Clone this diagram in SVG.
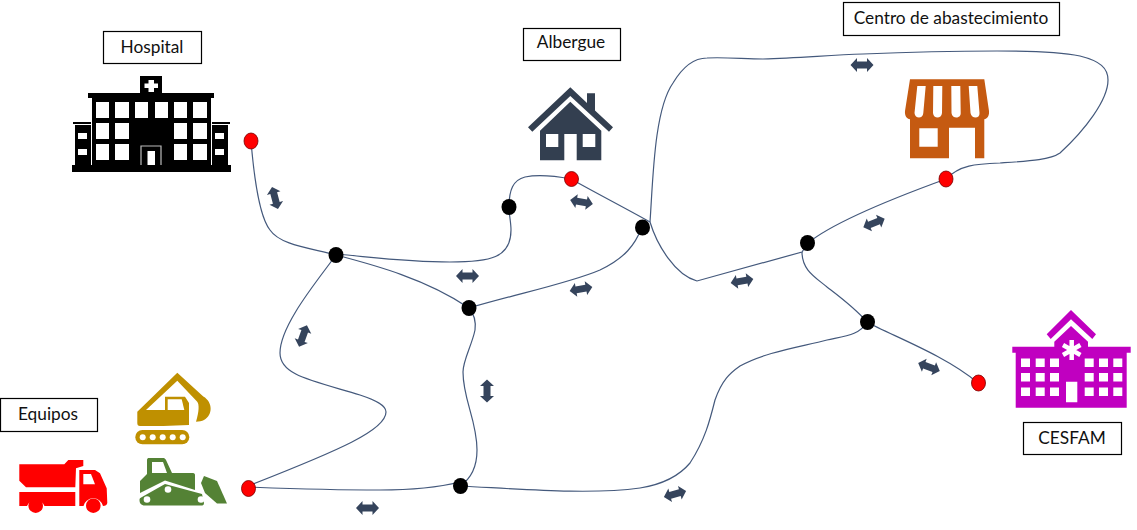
<svg xmlns="http://www.w3.org/2000/svg" xmlns:xlink="http://www.w3.org/1999/xlink" width="1137" height="530" viewBox="0 0 1137 530">
<style>
.lbl{fill:#fff;stroke:#000;stroke-width:1.2}
.txt{font-family:Lato,"Liberation Sans",sans-serif;font-size:17.300px;fill:#111;text-anchor:middle}
.c{fill:none;stroke:#44597c;stroke-width:1.200}
.blk{fill:#000}
.red{fill:#f00;stroke:#700;stroke-width:.8}
.arw{fill:#35445c}
.w{fill:#fff}
</style>
<defs>
<path id="da" d="M-11.500 0L-5 -7V-3.500H5V-7L11.500 0L5 7V3.500H-5V7Z"/>
</defs>
<rect width="1137" height="530" fill="#fff"/>
<g id="connectors">
<path class="c" d="M251 141C253 165 258 215 270 230C280 245 310 248 336 255"/>
<path class="c" d="M336 254C380 258 410 262 450 262C490 262 511 258 511 230C511 222 509 215 509 207"/>
<path class="c" d="M509 207C509 190 513 180 525 177C540 174 555 176 571 179"/>
<path class="c" d="M571 179C596 193 625 208 650 222"/>
<path class="c" d="M650 222C653 180 654 110 673 83C682 68 693 58 707 58C725 57 745 59 763 59C800 58 830 55 863 54C910 52 960 51 997 51C1030 51 1060 52 1080 56C1100 61 1108 68 1108 80C1108 100 1085 130 1060 153C1050 160 1030 161 1000 163C975 164 960 165 946 179"/>
<path class="c" d="M469 308C520 293 570 283 600 270C625 258 635 245 642 227"/>
<path class="c" d="M336 255C370 264 425 278 469 308"/>
<path class="c" d="M469 308C475 315 476 322 475 330C472 345 463 360 463 372C463 400 477 420 477 450C477 465 472 478 460 486"/>
<path class="c" d="M336 255C318 280 280 325 280 353C280 375 310 380 360 395C375 400 386 405 386 412C386 430 340 450 248 486"/>
<path class="c" d="M248 487C300 489 350 490 380 490C410 490 440 487 460 482"/>
<path class="c" d="M460 486C520 489 590 495 640 488C665 484 680 475 690 463C705 440 710 420 715 400C722 380 730 373 740 366C765 352 800 347 827 340C845 336 860 335 867 322"/>
<path class="c" d="M867 322C890 335 945 355 978 383"/>
<path class="c" d="M802 252C802 270 815 277 827 287C840 297 855 308 867 322"/>
<path class="c" d="M650 222C657 245 675 275 697 281L802 252L808 243"/>
<path class="c" d="M808 243C830 225 880 203 946 179"/>
</g>
<g id="arrows" class="arw">
<use xlink:href="#da" transform="translate(275 198) rotate(75)"/>
<use xlink:href="#da" transform="translate(467.500 276)"/>
<use xlink:href="#da" transform="translate(581.500 202) rotate(10)"/>
<use xlink:href="#da" transform="translate(581 289) rotate(-10)"/>
<use xlink:href="#da" transform="translate(303 336) rotate(-70)"/>
<use xlink:href="#da" transform="translate(487 391) rotate(90)"/>
<use xlink:href="#da" transform="translate(367.500 508)"/>
<use xlink:href="#da" transform="translate(675 494) rotate(-15)"/>
<use xlink:href="#da" transform="translate(742 281) rotate(-10)"/>
<use xlink:href="#da" transform="translate(874 223) rotate(-22)"/>
<use xlink:href="#da" transform="translate(862 65)"/>
<use xlink:href="#da" transform="translate(929 367) rotate(20)"/>
</g>
<g id="junctions" class="blk">
<ellipse cx="336" cy="255" rx="7.500" ry="8"/>
<ellipse cx="509" cy="207" rx="7.500" ry="8"/>
<ellipse cx="642.500" cy="227.500" rx="7.500" ry="8"/>
<ellipse cx="469" cy="308" rx="7.500" ry="8"/>
<ellipse cx="807.500" cy="243" rx="7.500" ry="8"/>
<ellipse cx="867.500" cy="322" rx="7.500" ry="8"/>
<ellipse cx="460.500" cy="486" rx="7.500" ry="8"/>
</g>
<g id="stops" class="red">
<ellipse cx="251" cy="141" rx="7" ry="8"/>
<ellipse cx="571.500" cy="179" rx="7" ry="7.500"/>
<ellipse cx="946" cy="179" rx="7" ry="8"/>
<ellipse cx="978.500" cy="383" rx="7" ry="8"/>
<ellipse cx="248.500" cy="488.500" rx="7" ry="8"/>
</g>
<g id="hospital">
<rect class="lbl" x="103.500" y="31.500" width="98" height="32"/>
<text class="txt" x="152" y="53">Hospital</text>
<path class="blk" d="M140 76H162V93H214V98H211V165H231V172H72V165H92V98H88V93H140Z"/>
<path class="blk" d="M75 125H91V165H75ZM73 122H91V124H73ZM212 125H228V165H212ZM212 122H230V124H212Z"/>
<path class="w" d="M148.500 80H154V83.500H158V88H154V92H148.500V88H144.500V83.500H148.500Z"/>
<path class="w" d="M96 102h13v16h-13zM115 102h14v16h-14zM135 102h13v16h-13zM155 102h13v16h-13zM174 102h13v16h-13zM193 102h14v16h-14zM96 123h13v16h-13zM115 123h14v16h-14zM174 123h13v16h-13zM193 123h14v16h-14zM96 144h13v16h-13zM115 144h14v16h-14zM174 144h13v16h-13zM193 144h14v16h-14zM78 133h9v6h-9zM78 149h9v6h-9zM215 133h9v6h-9zM215 149h9v6h-9z"/>
<path d="M141 165V146H161V165" fill="none" stroke="#bbb" stroke-width="1.200"/>
<rect class="w" x="147.500" y="151" width="7.500" height="14"/>
</g>
<g id="albergue">
<rect class="lbl" x="523.500" y="28.500" width="97" height="32"/>
<text class="txt" x="571" y="48">Albergue</text>
<path fill="#333f50" d="M570.300 87.300L587 103V93.300H595V110.500L613 127.300L609 131.700L570.300 96L532.300 131.700L528 127.300Z"/>
<path fill="#333f50" fill-rule="evenodd" d="M570.300 101.700L601.300 130.700V160.300H576.700V134H564.300V160.300H540V130.700ZM546 134V147H558.300V134ZM582.700 134V147H595.300V134Z"/>
</g>
<g id="centro">
<rect class="lbl" x="843.500" y="2.500" width="216" height="33"/>
<text class="txt" x="951" y="24">Centro de abastecimiento</text>
<path fill="#c55a11" fill-rule="evenodd" d="M910 79.300H984.300L989 111C989.500 116 987 119 984.300 119.300V158.300H975V127.700H949V158.300H910V119.300C907 119 904.500 116 905 111ZM919.300 128.300V146.700H937.700V128.300Z"/>
<path class="w" d="M917.300 86H925.700L923.300 113C923 119 915 119 914.500 113ZM933.300 86H942.300L942 113C941.500 119 933.500 119 933 113ZM951.300 86H960.300L960.700 113C961 119 952 119 951.500 113ZM968.700 86H977.300L979.500 113C980 119 971.500 119 970.500 113Z"/>
</g>
<g id="cesfam">
<rect class="lbl" x="1023.500" y="422.500" width="98" height="32"/>
<text class="txt" x="1072" y="444">CESFAM</text>
<path fill="#c000c0" d="M1071 310L1096 334.300L1092.300 339L1071 319.300L1050.700 339L1046.700 334.300Z"/>
<path fill="#c000c0" d="M1071 326L1088 341.700V346.700H1130.700V352.700H1126.700V407.700H1015.700V352.700H1012.300V346.700H1054.300V341.700Z"/>
<path class="w" d="M1021 358.500h9v8.500h-9zM1035.700 358.500h9v8.500h-9zM1050 358.500h9v8.500h-9zM1084.700 358.500h9v8.500h-9zM1099 358.500h9v8.500h-9zM1113.300 358.500h9v8.500h-9zM1021 373h9v8.500h-9zM1035.700 373h9v8.500h-9zM1050 373h9v8.500h-9zM1084.700 373h9v8.500h-9zM1099 373h9v8.500h-9zM1113.300 373h9v8.500h-9zM1021 387.500h9v8.500h-9zM1035.700 387.500h9v8.500h-9zM1050 387.500h9v8.500h-9zM1084.700 387.500h9v8.500h-9zM1099 387.500h9v8.500h-9zM1113.300 387.500h9v8.500h-9zM1066 381.700h11.300v20.500h-11.300z"/>
<path d="M1071.700 340V360M1063 345L1080.400 355M1063 355L1080.400 345" stroke="#fff" stroke-width="4.500" fill="none"/>
</g>
<g id="equipos">
<rect class="lbl" x="0.500" y="398.500" width="97" height="33"/>
<text class="txt" x="48" y="420">Equipos</text>
<g id="excavadora" fill="#bf9000">
<path d="M137.300 411.700L177.300 372.700L203.300 396.500C213 402 213 415 204 420C202 421 199 421.500 196 421.700C199 412 199.500 404 197 401.500L177.300 380.700L146 410H165V396.700H185L189 403V425C171 426 155 426 140 426C138 426 137.300 425 137.300 423Z"/>
<path class="w" d="M167.700 399.300H181.700L184.300 410H167.700Z"/>
<rect x="135.300" y="430" width="54" height="14.300" rx="7.100"/>
<g class="w"><circle cx="142.700" cy="437.300" r="3"/><circle cx="152.700" cy="437.300" r="3"/><circle cx="162.700" cy="437.300" r="3"/><circle cx="172.700" cy="437.300" r="3"/><circle cx="182.700" cy="437.300" r="3"/></g>
</g>
<g id="camion" fill="#f00">
<path d="M19.300 464.300H64.300L68.300 460H83.300V466L76 468.300L75.300 487.300H26L19.300 480.700Z"/>
<path d="M19.300 492H75.300V506H44.500A9.500 9.500 0 0 0 27 506H19.300Z"/>
<path d="M79.300 470H95L100 473.300L106.700 488.300L107.300 503C107 505 105.500 506 103 506A10 10 0 0 0 83.500 506H79.300Z"/>
<path class="w" d="M83.300 474H91L95 484.300H83.300Z"/>
<circle cx="35.700" cy="505.700" r="7.300"/><circle cx="93.300" cy="505.700" r="7.300"/>
</g>
<g id="topadora" fill="#548235">
<path d="M140 481L147 474V460C147 458.500 148 458 149 458H163C164.500 458 165 458.500 166 460L172 473H193C194.500 473 195 474 195 475V490L165 480.500L140 493Z"/>
<path class="w" d="M152 462H163L167 473H152Z"/>
<path d="M139.500 500C139.500 498.500 140 498 142 497L165 484L202 494L204 503C204 505 203 505.500 201 505.500H145C141 505.500 139.500 503 139.500 500Z"/>
<path d="M204 476L217 481L227 503.500H217L205 493L201 483Z"/>
<g class="w"><circle cx="147" cy="499.500" r="3.300"/><circle cx="168" cy="489.500" r="3.300"/><circle cx="201" cy="499.500" r="3.300"/></g>
</g>
</g>
</svg>
